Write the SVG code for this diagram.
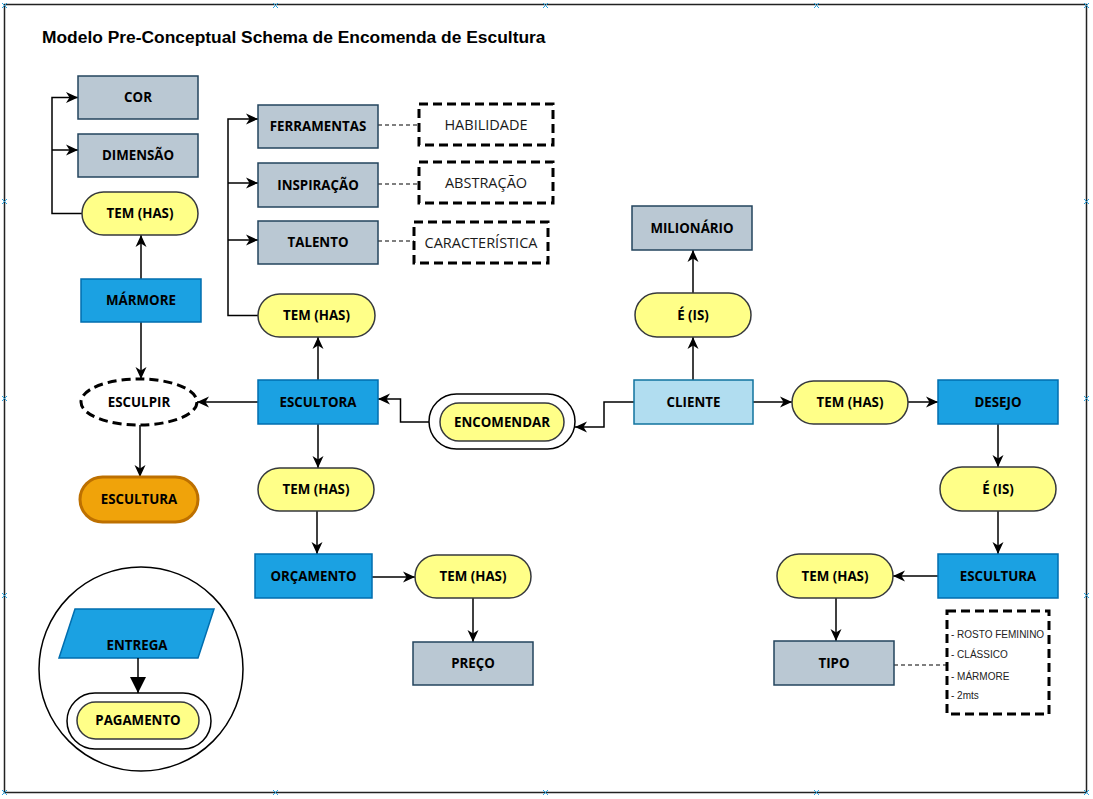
<svg xmlns="http://www.w3.org/2000/svg" width="1093" height="799" viewBox="0 0 1093 799">
<style>
.lbl{font-family:"Open Sans","Liberation Sans",sans-serif;font-weight:bold;font-size:13.3px;fill:#000;text-anchor:middle}
.reg{font-family:"Open Sans","Liberation Sans",sans-serif;font-size:14.5px;fill:#1a1a1a;text-anchor:middle}
.small{font-family:"Liberation Sans",Arial,sans-serif;font-size:10px;fill:#222}
.gray{fill:#bac8d3;stroke:#23445d;stroke-width:1.5}
.blue{fill:#1ba1e2;stroke:#006eaf;stroke-width:1.5}
.lblue{fill:#b1ddf0;stroke:#10739e;stroke-width:1.5}
.yel{fill:#ffff88;stroke:#36393d;stroke-width:1.5}
.dash{fill:#fff;stroke:#000;stroke-width:3;stroke-dasharray:9 5}
.conn{fill:none;stroke:#000;stroke-width:1.5}
.thin{fill:none;stroke:#000;stroke-width:1.2;stroke-dasharray:4 3}
.hdl{stroke:#29a3e0;stroke-width:1}
</style>
<defs>
<marker id="arr" viewBox="0 0 12 12" refX="12" refY="6" markerWidth="12" markerHeight="12" orient="auto" markerUnits="userSpaceOnUse">
<path d="M0,0.5 L12,6 L0,11.5 L3.5,6 z" fill="#000"/>
</marker>
<marker id="blk" viewBox="0 0 16 16" refX="16" refY="8" markerWidth="16" markerHeight="16" orient="auto" markerUnits="userSpaceOnUse">
<path d="M0,0 L16,8 L0,16 z" fill="#000"/>
</marker>
</defs>
<rect x="0" y="0" width="1093" height="799" fill="#fff"/>
<rect x="4.5" y="4.5" width="1082" height="788" fill="none" stroke="#222" stroke-width="1.5"/>
<g id="handles" class="hdl">
<path d="M2,3 l5,5 m0,-5 l-5,5 M273,3 l5,5 m0,-5 l-5,5 M543,3 l5,5 m0,-5 l-5,5 M814,3 l5,5 m0,-5 l-5,5 M1084,3 l5,5 m0,-5 l-5,5"/>
<path d="M2,790 l5,5 m0,-5 l-5,5 M273,790 l5,5 m0,-5 l-5,5 M543,790 l5,5 m0,-5 l-5,5 M814,790 l5,5 m0,-5 l-5,5 M1084,790 l5,5 m0,-5 l-5,5"/>
<path d="M2,199 l5,5 m0,-5 l-5,5 M2,396 l5,5 m0,-5 l-5,5 M2,593 l5,5 m0,-5 l-5,5"/>
<path d="M1084,199 l5,5 m0,-5 l-5,5 M1084,396 l5,5 m0,-5 l-5,5 M1084,593 l5,5 m0,-5 l-5,5"/>
</g>
<text x="42" y="42.5" font-family="Liberation Sans,Arial,sans-serif" font-weight="bold" font-size="17.4" fill="#000">Modelo Pre-Conceptual Schema de Encomenda de Escultura</text>

<g id="connectors">
<path class="conn" d="M82,213.5 H52 V97.5 H78" marker-end="url(#arr)"/>
<path class="conn" d="M52,150 H78" marker-end="url(#arr)"/>
<path class="conn" d="M141,279 V235" marker-end="url(#arr)"/>
<path class="conn" d="M141,322 V379" marker-end="url(#arr)"/>
<path class="conn" d="M140,425 V477" marker-end="url(#arr)"/>
<path class="conn" d="M258,402 H197" marker-end="url(#arr)"/>
<path class="conn" d="M318,380 V337" marker-end="url(#arr)"/>
<path class="conn" d="M258,315.5 H228 V119 H258" marker-end="url(#arr)"/>
<path class="conn" d="M228,183 H258" marker-end="url(#arr)"/>
<path class="conn" d="M228,240 H258" marker-end="url(#arr)"/>
<path class="thin" d="M378,125 H419"/>
<path class="thin" d="M378,184 H419"/>
<path class="thin" d="M378,241 H414"/>
<path class="conn" d="M429,422 H400.5 V399 H378" marker-end="url(#arr)"/>
<path class="conn" d="M634,402 H604 V427 H575" marker-end="url(#arr)"/>
<path class="conn" d="M693,380 V337" marker-end="url(#arr)"/>
<path class="conn" d="M693,293 V250" marker-end="url(#arr)"/>
<path class="conn" d="M753,402 H792" marker-end="url(#arr)"/>
<path class="conn" d="M908,402 H938" marker-end="url(#arr)"/>
<path class="conn" d="M998,424 V467" marker-end="url(#arr)"/>
<path class="conn" d="M998,511 V554" marker-end="url(#arr)"/>
<path class="conn" d="M938,576 H893" marker-end="url(#arr)"/>
<path class="conn" d="M836,598 V641" marker-end="url(#arr)"/>
<path class="thin" d="M894,665 H947"/>
<path class="conn" d="M318,424 V468" marker-end="url(#arr)"/>
<path class="conn" d="M317,511 V554" marker-end="url(#arr)"/>
<path class="conn" d="M372,577 H415" marker-end="url(#arr)"/>
<path class="conn" d="M473,598 V642" marker-end="url(#arr)"/>
</g>

<g id="cor"><rect class="gray" x="78" y="76" width="120" height="43"/><text class="lbl" x="138" y="102">COR</text></g>
<g id="dimensao"><rect class="gray" x="78" y="134" width="120" height="43"/><text class="lbl" x="138" y="160">DIMENSÃO</text></g>
<g id="tem1"><rect class="yel" x="82" y="192" width="116" height="43" rx="21.5"/><text class="lbl" x="140" y="218">TEM (HAS)</text></g>
<g id="marmore"><rect class="blue" x="81" y="279" width="120" height="43"/><text class="lbl" x="141" y="305">MÁRMORE</text></g>
<g id="esculpir"><ellipse class="dash" cx="139" cy="402" rx="58" ry="23"/><text class="lbl" x="139" y="407">ESCULPIR</text></g>
<g id="escultura1"><rect x="80" y="477" width="118" height="45" rx="22.5" fill="#f0a30a" stroke="#bd7000" stroke-width="3"/><text class="lbl" x="139" y="504">ESCULTURA</text></g>

<g id="ferramentas"><rect class="gray" x="258" y="105" width="120" height="43"/><text class="lbl" x="318" y="131">FERRAMENTAS</text></g>
<g id="inspiracao"><rect class="gray" x="258" y="163" width="120" height="44"/><text class="lbl" x="318" y="190">INSPIRAÇÃO</text></g>
<g id="talento"><rect class="gray" x="258" y="221" width="120" height="43"/><text class="lbl" x="318" y="247">TALENTO</text></g>
<g id="habilidade"><rect class="dash" x="419" y="104" width="134" height="41"/><text class="reg" x="486" y="130">HABILIDADE</text></g>
<g id="abstracao"><rect class="dash" x="419" y="162" width="134" height="41"/><text class="reg" x="486" y="188">ABSTRAÇÃO</text></g>
<g id="caracteristica"><rect class="dash" x="414" y="222" width="134" height="41"/><text class="reg" x="481" y="248">CARACTERÍSTICA</text></g>
<g id="tem2"><rect class="yel" x="258" y="294" width="117" height="43" rx="21.5"/><text class="lbl" x="316.5" y="320">TEM (HAS)</text></g>
<g id="escultora"><rect class="blue" x="258" y="380" width="120" height="44"/><text class="lbl" x="318" y="407">ESCULTORA</text></g>
<g id="tem5"><rect class="yel" x="258" y="468" width="116" height="43" rx="21.5"/><text class="lbl" x="316" y="494">TEM (HAS)</text></g>
<g id="orcamento"><rect class="blue" x="255" y="554" width="117" height="44"/><text class="lbl" x="313.5" y="581">ORÇAMENTO</text></g>
<g id="tem6"><rect class="yel" x="415" y="555" width="116" height="43" rx="21.5"/><text class="lbl" x="473" y="581">TEM (HAS)</text></g>
<g id="preco"><rect class="gray" x="413" y="642" width="120" height="43"/><text class="lbl" x="473" y="668">PREÇO</text></g>

<g id="encomendar"><rect x="429" y="394" width="146" height="55" rx="27.5" fill="#fff" stroke="#000" stroke-width="1.5"/><rect class="yel" x="440" y="403" width="124" height="38" rx="19"/><text class="lbl" x="502" y="427">ENCOMENDAR</text></g>
<g id="cliente"><rect class="lblue" x="634" y="380" width="119" height="44"/><text class="lbl" x="693.5" y="407">CLIENTE</text></g>
<g id="e1"><rect class="yel" x="635" y="293" width="116" height="44" rx="22"/><text class="lbl" x="693" y="320">É (IS)</text></g>
<g id="milionario"><rect class="gray" x="632" y="206" width="120" height="44"/><text class="lbl" x="692" y="233">MILIONÁRIO</text></g>
<g id="tem3"><rect class="yel" x="792" y="381" width="116" height="43" rx="21.5"/><text class="lbl" x="850" y="407">TEM (HAS)</text></g>
<g id="desejo"><rect class="blue" x="938" y="380" width="120" height="44"/><text class="lbl" x="998" y="407">DESEJO</text></g>
<g id="e2"><rect class="yel" x="940" y="467" width="116" height="44" rx="22"/><text class="lbl" x="998" y="494">É (IS)</text></g>
<g id="escultura2"><rect class="blue" x="938" y="554" width="120" height="44"/><text class="lbl" x="998" y="581">ESCULTURA</text></g>
<g id="tem4"><rect class="yel" x="777" y="554" width="116" height="44" rx="22"/><text class="lbl" x="835" y="581">TEM (HAS)</text></g>
<g id="tipo"><rect class="gray" x="774" y="641" width="120" height="44"/><text class="lbl" x="834" y="668">TIPO</text></g>
<g id="lista"><rect class="dash" x="947" y="611" width="102" height="103"/>
<text class="small" x="951" y="638">- ROSTO FEMININO</text>
<text class="small" x="951" y="658">- CLÁSSICO</text>
<text class="small" x="951" y="680">- MÁRMORE</text>
<text class="small" x="951" y="699">- 2mts</text></g>

<g id="grupo"><circle cx="141" cy="669" r="102" fill="#fff" stroke="#000" stroke-width="1.5"/></g>
<g id="entrega"><polygon class="blue" points="75,609 214,609 198,658 59,658"/><text class="lbl" x="137" y="650" font-size="14.5">ENTREGA</text></g>
<g id="pagamento"><rect x="67" y="693" width="144" height="56" rx="28" fill="#fff" stroke="#000" stroke-width="1.5"/><rect class="yel" x="77" y="702" width="122" height="37" rx="18.5"/><text class="lbl" x="138" y="725">PAGAMENTO</text></g>
<g id="connector-entrega"><path class="conn" d="M138,658 V693" marker-end="url(#blk)"/></g>
</svg>
